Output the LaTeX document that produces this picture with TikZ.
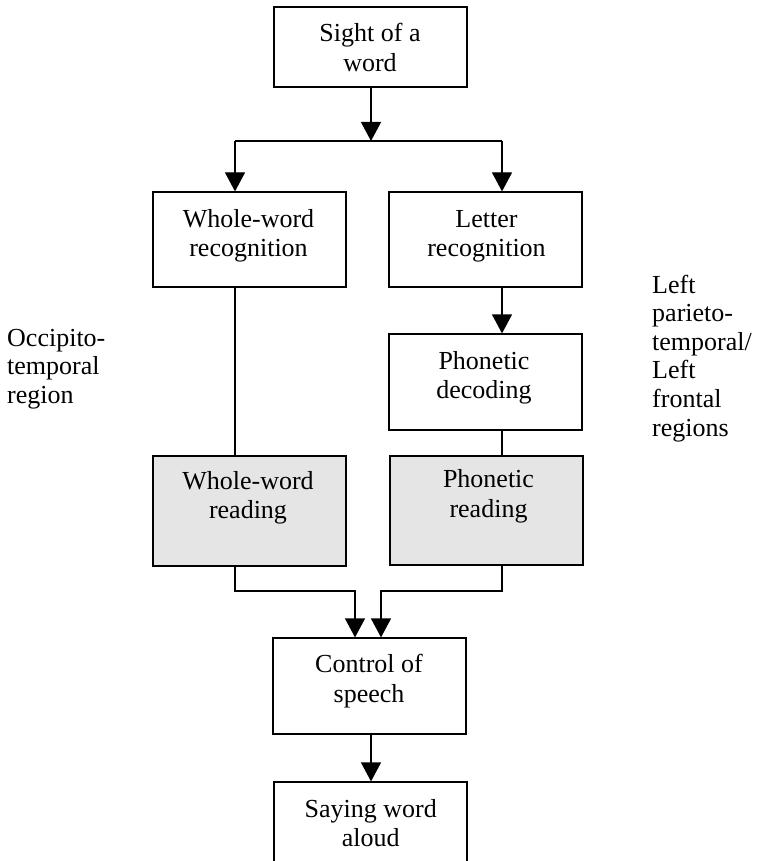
\documentclass[tikz,border=0pt]{standalone}
\usepackage{fontspec}
\setmainfont{Liberation Serif}
\usetikzlibrary{arrows.meta}
\definecolor{readfill}{HTML}{E5E5E5}
\tikzset{
  stagebox/.style={draw=black, line width=1.2pt, minimum width=193pt, inner sep=0pt},
  readbox/.style={stagebox, fill=readfill},
  boxtext/.style={anchor=base, inner sep=0pt, font=\fontsize{26}{29.5}\selectfont},
  sidetext/.style={anchor=base west, inner sep=0pt, font=\fontsize{26}{28.6}\selectfont},
  link/.style={line width=1.2pt},
  flow/.style={link, -{Triangle[width=20pt,length=19pt]}},
}
\newcommand{\stack}[1]{\begin{tabular}[t]{@{}c@{}}#1\end{tabular}}
\newcommand{\lstack}[1]{\begin{tabular}[t]{@{}l@{}}#1\end{tabular}}
\begin{document}
\begin{tikzpicture}[x=1pt, y=-1pt]
  \clip (0,0) rectangle (759,861);

  % stage boxes
  \node[stagebox, minimum height=80pt] (sight)   at (370.5,47)    {};
  \node[stagebox, minimum height=95pt] (wwrec)   at (249.5,239.5) {};
  \node[stagebox, minimum height=95pt] (letrec)  at (485.5,239.5) {};
  \node[stagebox, minimum height=96pt] (phondec) at (485.5,382)   {};
  \node[readbox,  minimum height=110pt] (wwread)  at (249.5,511)  {};
  \node[readbox,  minimum height=109pt] (phonread) at (486.5,510.5) {};
  \node[stagebox, minimum height=96pt] (control) at (369.5,686)   {};
  \node[stagebox, minimum height=96pt] (saying)  at (370.5,830)   {};

  % box labels
  \node[boxtext] (sight-t)    at (370,41.7)  {\stack{Sight of a\\word}};
  \node[boxtext] (wwrec-t)    at (248.5,227) {\stack{Whole-word\\recognition}};
  \node[boxtext] (letrec-t)   at (486.5,227) {\stack{Letter\\recognition}};
  \node[boxtext] (phondec-t)  at (484,369.3) {\stack{Phonetic\\decoding}};
  \node[boxtext] (wwread-t)   at (248,489.3) {\stack{Whole-word\\reading}};
  \node[boxtext] (phonread-t) at (488.5,487.5) {\stack{Phonetic\\reading}};
  \node[boxtext] (control-t)  at (369,672.8) {\stack{Control of\\speech}};
  \node[boxtext] (saying-t)   at (370.8,817.3) {\stack{Saying word\\aloud}};

  % region labels
  \node[sidetext] (occ)  at (7,346)   {\lstack{Occipito-\\temporal\\region}};
  \node[sidetext] (left) at (652,293) {\lstack{Left\\parieto-\\temporal/\\Left\\frontal\\regions}};

  % connectors
  \coordinate (split)  at (371,141);
  \coordinate (splitL) at (235,141);
  \coordinate (splitR) at (502,141);
  \coordinate (mergeL) at (355,591);
  \coordinate (mergeR) at (381,591);

  \draw[flow] (split |- sight.south) -- (split);
  \draw[link] (splitL) -- (splitR);
  \draw[flow] (splitL) -- (splitL |- wwrec.north);
  \draw[flow] (splitR) -- (splitR |- letrec.north);
  \draw[link] (wwrec.south -| splitL) -- (wwread.north -| splitL);
  \draw[flow] (letrec.south -| splitR) -- (phondec.north -| splitR);
  \draw[link] (phondec.south -| splitR) -- (phonread.north -| splitR);
  \draw[flow] (wwread.south -| splitL) |- (mergeL) -- (mergeL |- control.north);
  \draw[flow] (phonread.south -| splitR) |- (mergeR) -- (mergeR |- control.north);
  \draw[flow] (control.south -| split) -- (split |- saying.north);
\end{tikzpicture}
\end{document}
